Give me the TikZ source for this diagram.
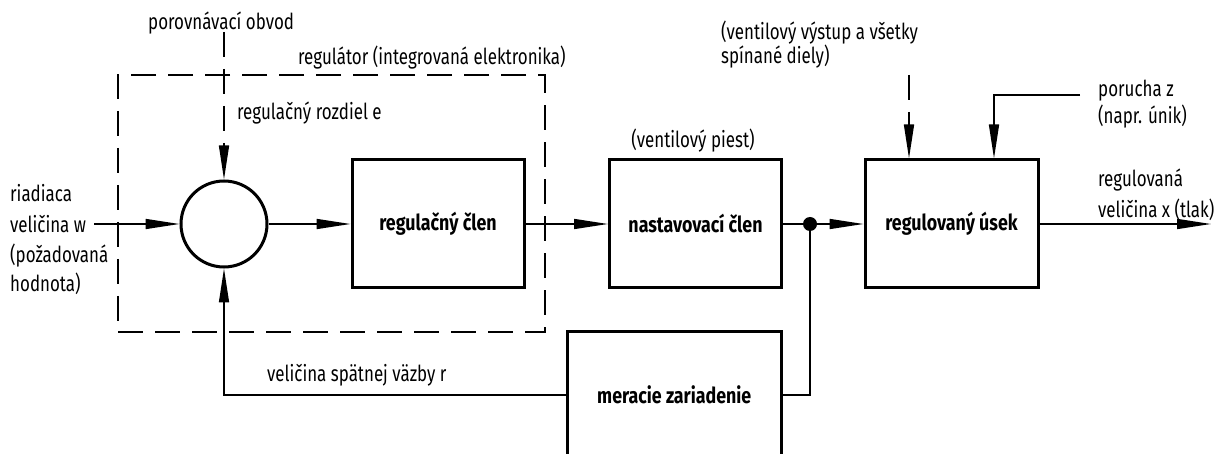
\documentclass[tikz,border=0pt]{standalone}
\usepackage{fontspec}
\setmainfont{Fira Sans}[FakeStretch=0.77, BoldFeatures={FakeStretch=0.81}]
\usetikzlibrary{arrows.meta}
\begin{document}
\begin{tikzpicture}[x=1pt,y=-1pt,
  every node/.style={font=\fontsize{22}{30}\selectfont, inner sep=0pt},
  blk/.style={draw, line width=3pt, font=\fontsize{22}{30}\selectfont\bfseries, minimum height=128pt},
  conn/.style={line width=1.5pt},
  arr/.style={conn, -{Triangle[length=34pt,width=10pt]}},
  dsh/.style={dash pattern=on 25pt off 12pt},
  lbl/.style={anchor=base west}]
\useasboundingbox (0,0) rectangle (1216,454);
\fill[white] (0,0) rectangle (1216,454);
\clip (0,0) rectangle (1216,454);

% regulator region
\node[draw, conn, dsh, minimum width=427pt, minimum height=257pt] (ctrl) at (331.5,203.5) {};

% blocks
\node[draw, circle, line width=3pt, minimum size=86pt] (sum) at (224,224) {};
\node[blk, minimum width=172pt] (reg) at (438,224) {regulačný člen};
\node[blk, minimum width=172pt] (nast) at (695.5,224) {nastavovací člen};
\node[blk, minimum width=173pt] (usek) at (951.5,224) {regulovaný úsek};
\node[blk, minimum width=214.5pt, minimum height=126pt] (mer) at (674.25,395) {meracie zariadenie};
\node[circle, fill, minimum size=14pt] (jn) at (810,224) {};

% labels
\node[lbl] (lcmp) at (148,30) {porovnávací obvod};
\node[lbl] (lctrl) at (298,65) {regulátor (integrovaná elektronika)};
\node[lbl] (le) at (237,120) {regulačný rozdiel e};
\node[lbl] (lw1) at (10,202) {riadiaca};
\node[lbl] (lw2) at (10,232.5) {veličina w};
\node[lbl] (lw3) at (10,262.5) {(požadovaná};
\node[lbl] (lw4) at (10,292) {hodnota)};
\node[lbl] (lr) at (267,381.5) {veličina spätnej väzby r};
\node[anchor=base] (lpiest) at (693,148) {(ventilový piest)};
\node[lbl] (lv1) at (721,39.3) {(ventilový výstup a všetky};
\node[lbl] (lv2) at (721,64) {spínané diely)};
\node[lbl] (lz1) at (1098,97) {porucha z};
\node[lbl] (lz2) at (1098,124) {(napr. únik)};
\node[lbl] (lx1) at (1098,187) {regulovaná};
\node[lbl] (lx2) at (1098,217.5) {veličina x (tlak)};

% connectors
\coordinate (win) at (94,224);
\coordinate (xout) at (1211,224);
\coordinate (cmp) at (224,32);
\coordinate (vent) at (909,75);
\coordinate (dist) at (1080,95);

\draw[arr] (win) -- (sum);
\draw[arr] (sum) -- (reg);
\draw[arr] (reg) -- (nast);
\draw[conn] (nast) -- (jn);
\draw[arr] (jn) -- (usek);
\draw[arr] (usek) -- (xout);
\draw[conn] (jn) |- (mer.east);
\draw[arr] (mer.west) -| (sum);
\draw[arr, dsh] (cmp) -- (sum);
\draw[arr, dsh] (vent) -- ([xshift=-42.5pt]usek.north);
\draw[arr] (dist) -| ([xshift=42.5pt]usek.north);
\end{tikzpicture}
\end{document}
